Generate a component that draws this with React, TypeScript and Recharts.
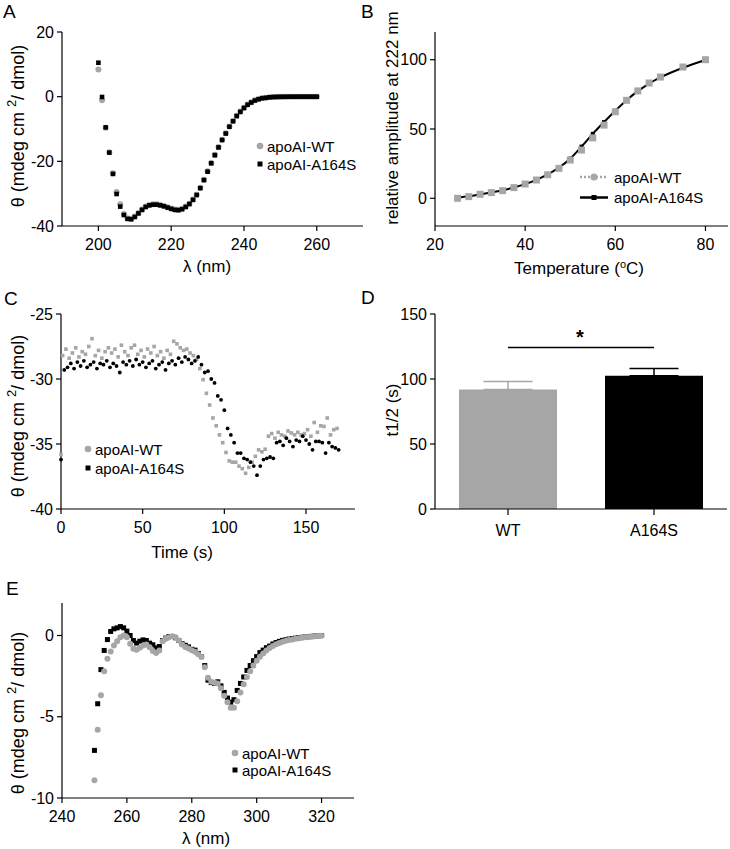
import {
  ScatterChart,
  Scatter,
  ComposedChart,
  Line,
  BarChart,
  Bar,
  Cell,
  ErrorBar,
  XAxis,
  YAxis,
  ReferenceLine,
} from 'recharts'

const FONT = '"Liberation Sans", Arial, Helvetica, sans-serif'
const GRAY = '#a6a6a6'
const INK = '#000000'

// A: far-UV CD spectra
const farUvNm = [
  200, 201, 202, 203, 204, 205, 206, 207, 208, 209, 210, 211, 212, 213, 214, 215, 216, 217, 218, 219,
  220, 221, 222, 223, 224, 225, 226, 227, 228, 229, 230, 231, 232, 233, 234, 235, 236, 237, 238, 239,
  240, 241, 242, 243, 244, 245, 246, 247, 248, 249, 250, 251, 252, 253, 254, 255, 256, 257, 258, 259, 260,
]
const farUvWT = [
  8.4, -1.1, -9.6, -17.2, -23.7, -29.5, -33.3, -36.3, -37.6, -37.8, -37.1, -36.0, -34.9, -34.0, -33.5, -33.3, -33.3, -33.5, -33.8, -34.2,
  -34.6, -34.9, -35.0, -34.7, -34.0, -33.1, -31.8, -30.3, -28.2, -25.7, -23.1, -20.5, -18.0, -15.6, -13.3, -11.3, -9.2, -7.5, -5.9, -4.6,
  -3.4, -2.4, -1.7, -1.1, -0.7, -0.45, -0.3, -0.18, -0.1, -0.06, -0.04, -0.02, -0.01, 0, 0, 0, 0, 0, 0, 0, 0,
]
const farUvA164S = [
  10.5, -0.1, -9.5, -17.3, -23.9, -30.1, -34.0, -36.6, -37.8, -37.9, -37.2, -36.1, -35.0, -34.1, -33.6, -33.4, -33.4, -33.6, -33.9, -34.3,
  -34.7, -35.0, -35.1, -34.8, -34.1, -33.2, -31.9, -30.4, -28.3, -25.8, -23.2, -20.6, -18.1, -15.7, -13.4, -11.4, -9.3, -7.6, -6.0, -4.7,
  -3.5, -2.5, -1.8, -1.2, -0.8, -0.5, -0.35, -0.2, -0.12, -0.08, -0.05, -0.03, -0.02, -0.01, 0, 0, 0, 0, 0, 0, 0,
]

// B: thermal unfolding followed at 222 nm
const meltTemp = [25, 27.5, 30, 32.5, 35, 37.5, 40, 42.5, 45, 47.5, 50, 52.5, 55, 57.5, 60, 62.5, 65, 67.5, 70, 75, 80]
const meltWT = [0, 1.2, 2.9, 4.1, 5.5, 7.7, 10.3, 13.2, 17, 21.6, 27.6, 34.8, 43.6, 52.8, 62.4, 70.7, 77.5, 83.2, 87.5, 94.7, 100]
const meltA164S = [0.5, 1.5, 2.8, 4.2, 5.8, 7.8, 10.2, 13.3, 17.2, 22.2, 28.6, 37.3, 46.5, 55.0, 63.2, 70.8, 77.3, 82.8, 87.2, 94.2, 99.8]

// C: time course
const kinTimeWT = [
  0, 1, 3, 5, 7, 9, 11, 13, 15, 17, 19, 21, 23, 25, 27, 29, 31, 33, 35, 37, 39, 41, 43, 45, 47, 49, 51, 53, 55, 57,
  59, 61, 63, 65, 67, 69, 71, 73, 75, 77, 79, 81, 83, 85, 87, 89, 91, 93, 95, 97, 99, 101, 103, 105, 107, 109, 111, 113, 115, 117,
  119, 121, 123, 125, 127, 129, 131, 133, 135, 137, 139, 141, 143, 145, 147, 149, 151, 153, 155, 157, 159, 161, 163, 165, 167, 169,
]
const kinWT = [
  -35.8,
  -28.2, -27.7, -28.4, -28.0, -27.6, -28.3, -27.9, -28.1, -27.5, -26.9,
  -28.2, -27.8, -28.4, -27.9, -27.6, -28.0, -27.7, -28.3, -27.4, -27.9,
  -28.2, -27.6, -27.4, -28.1, -27.8, -28.3, -27.7, -28.0, -27.5, -28.2,
  -27.9, -28.4, -27.8, -28.1, -27.1, -27.3, -27.6, -27.8, -27.7, -28.0,
  -28.2, -28.5, -29.2, -30.05, -31.1, -32.0, -33.0, -33.6, -34.3, -34.9,
  -35.65, -36.3, -36.4, -36.4, -36.7, -36.9, -37.25, -36.8, -36.4, -35.95,
  -35.45, -35.6, -35.4, -34.4, -34.2, -34.55, -34.1, -34.3, -34.4, -34.0,
  -34.15, -34.3, -34.1, -34.3, -34.2, -33.9, -34.4, -33.35, -34.1, -33.6,
  -33.65, -33.0, -34.3, -33.9, -33.8,
]
const kinTimeA164S = [
  0, 2, 4, 6, 8, 10, 12, 14, 16, 18, 20, 22, 24, 26, 28, 30, 32, 34, 36, 38, 40, 42, 44, 46, 48, 50, 52, 54, 56, 58,
  60, 62, 64, 66, 68, 70, 72, 74, 76, 78, 80, 82, 84, 86, 88, 90, 92, 94, 96, 98, 100, 102, 104, 106, 108, 110, 112, 114, 116, 118,
  120, 122, 124, 126, 128, 130, 132, 134, 136, 138, 140, 142, 144, 146, 148, 150, 152, 154, 156, 158, 160, 162, 164, 166, 168, 170,
]
const kinA164S = [
  -36.2, -29.3, -29.1, -28.8, -29.2, -28.7, -29.0, -28.6, -29.1, -28.9,
  -28.7, -29.2, -28.8, -28.9, -28.6, -29.1, -28.8, -29.0, -29.5, -28.7,
  -28.9, -28.6, -29.0, -28.5, -28.9, -28.7, -29.1, -28.8, -28.6, -29.2,
  -28.9, -28.7, -29.3, -28.8, -28.6, -28.9, -28.4, -28.7, -28.3, -28.5,
  -28.8, -28.6, -28.3, -28.9, -29.5, -29.4, -30.0, -30.3, -31.3, -31.6,
  -32.4, -33.8, -34.3, -34.9, -35.7, -35.7, -36.1, -36.2, -36.4, -36.7,
  -37.4, -36.7, -36.2, -36.1, -36.0, -36.1, -34.9, -34.8, -35.1, -34.55,
  -34.8, -35.2, -34.7, -34.8, -34.4, -34.7, -35.0, -35.45, -34.8, -34.8,
  -34.9, -35.7, -34.9, -35.2, -35.3, -35.45,
]

// D: half-life
const halfLifeGroups = ['WT', 'A164S']
const halfLifeMean = [92, 102.5]
const halfLifeSem = [6, 5.5]

// E: near-UV CD spectra
const nearUvNm = [
  250, 251, 252, 253, 254, 255, 256, 257, 258, 259, 260, 261, 262, 263, 264, 265, 266, 267, 268, 269,
  270, 271, 272, 273, 274, 275, 276, 277, 278, 279, 280, 281, 282, 283, 284, 285, 286, 287, 288, 289,
  290, 291, 292, 293, 294, 295, 296, 297, 298, 299, 300, 301, 302, 303, 304, 305, 306, 307, 308, 309,
  310, 311, 312, 313, 314, 315, 316, 317, 318, 319, 320,
]
const nearUvWT = [
  -8.9, -5.8, -3.67, -2.2, -1.43, -0.98, -0.61, -0.35, -0.1, 0.0, -0.1, -0.51, -0.82, -0.88, -0.76, -0.61, -0.55, -0.72, -0.96, -1.08,
  -0.92, -0.35, -0.2, -0.1, -0.04, -0.1, -0.31, -0.55, -0.7, -0.8, -0.9, -1.0, -1.15, -1.3, -1.95, -2.6, -2.85, -2.9, -2.95, -3.25,
  -3.7, -4.1, -4.45, -4.45, -4.05, -3.5, -3.0, -2.55, -2.2, -1.85, -1.55, -1.3, -1.1, -0.92, -0.77, -0.64, -0.54, -0.46, -0.39, -0.33,
  -0.28, -0.24, -0.2, -0.17, -0.14, -0.11, -0.09, -0.07, -0.05, -0.03, -0.01,
]
const nearUvA164S = [
  -7.07, -4.2, -2.1, -0.92, -0.25, 0.25, 0.41, 0.47, 0.55, 0.47, 0.27, 0.0, -0.31, -0.47, -0.35, -0.27, -0.31, -0.47, -0.57, -0.76,
  -0.68, -0.31, -0.16, -0.06, -0.06, -0.14, -0.31, -0.5, -0.6, -0.7, -0.85, -0.9, -1.1, -1.3, -1.85, -2.75, -2.9, -2.95, -2.85, -3.1,
  -3.5, -3.85, -4.1, -3.95, -3.38, -2.95, -2.55, -2.15, -1.85, -1.55, -1.3, -1.05, -0.9, -0.75, -0.65, -0.52, -0.43, -0.36, -0.3, -0.26,
  -0.22, -0.19, -0.16, -0.13, -0.11, -0.09, -0.07, -0.05, -0.03, -0.02, 0,
]

const pairs = (xs: number[], ys: number[]) => xs.map((x, i) => ({ x, y: ys[i] }))

const farUvRowsWT = pairs(farUvNm, farUvWT)
const farUvRowsA164S = pairs(farUvNm, farUvA164S)
const meltRows = meltTemp.map((t, i) => ({ t, wt: meltWT[i], mut: meltA164S[i] }))
const kinRowsWT = pairs(kinTimeWT, kinWT)
const kinRowsA164S = pairs(kinTimeA164S, kinA164S)
const halfLifeRows = halfLifeGroups.map((name, i) => ({
  name,
  value: halfLifeMean[i],
  errWT: i === 0 ? [0, halfLifeSem[i]] : undefined,
  errMut: i === 1 ? [0, halfLifeSem[i]] : undefined,
}))
const nearUvRowsWT = pairs(nearUvNm, nearUvWT)
const nearUvRowsA164S = pairs(nearUvNm, nearUvA164S)

const tickStyle = { fill: INK, fontSize: 16, fontFamily: FONT }
const axisStroke = { stroke: INK, strokeWidth: 1.2 }
const xAxisBits = { tickSize: 5, tickMargin: 8, tick: tickStyle, axisLine: axisStroke, tickLine: axisStroke, interval: 0 as const }
const yAxisBits = { tickSize: 5, tickMargin: 3, tick: tickStyle, axisLine: axisStroke, tickLine: axisStroke, interval: 0 as const }

function Title({ px, py, text, rotate }: { px: number; py: number; text: string; rotate?: boolean }) {
  return (
    <text
      x={px}
      y={py}
      textAnchor="middle"
      dominantBaseline={rotate ? 'central' : 'auto'}
      transform={rotate ? `rotate(-90 ${px} ${py})` : undefined}
      fontSize={17}
      fontFamily={FONT}
      fill={INK}
    >
      {text}
    </text>
  )
}

function ThetaTitle({ px, py }: { px: number; py: number }) {
  return (
    <text
      x={px}
      y={py}
      textAnchor="middle"
      dominantBaseline="central"
      transform={`rotate(-90 ${px} ${py})`}
      fontSize={18}
      fontFamily={FONT}
      fill={INK}
    >
      <tspan>θ (mdeg cm </tspan>
      <tspan dy={-7} fontSize={13}>2</tspan>
      <tspan dy={7}>/ dmol)</tspan>
    </text>
  )
}

function TempTitle({ px, py }: { px: number; py: number }) {
  return (
    <text x={px} y={py} textAnchor="middle" fontSize={17} fontFamily={FONT} fill={INK}>
      <tspan>Temperature (</tspan>
      <tspan dy={-6} fontSize={11}>o</tspan>
      <tspan dy={6}>C)</tspan>
    </text>
  )
}

function SquareMark({ cx, cy, side, color }: any) {
  if (cx == null || cy == null) return null
  return <rect x={cx - side / 2} y={cy - side / 2} width={side} height={side} fill={color} />
}

function RoundMark({ cx, cy, r, color }: any) {
  if (cx == null || cy == null) return null
  return <circle cx={cx} cy={cy} r={r} fill={color} />
}

function LegendRow({ x, y, label, mark }: { x: number; y: number; label: string; mark: 'circle' | 'square' }) {
  return (
    <g>
      {mark === 'circle' ? (
        <circle cx={x} cy={y} r={3.3} fill={GRAY} />
      ) : (
        <rect x={x - 2.5} y={y - 2.5} width={5} height={5} fill={INK} />
      )}
      <text x={x + 7} y={y} dominantBaseline="central" fontSize={15} fontFamily={FONT} fill={INK}>
        {label}
      </text>
    </g>
  )
}

function Overlay() {
  const letter = { fontSize: 19, fontFamily: FONT, fill: INK }
  return (
    <svg width={730} height={849} style={{ position: 'absolute', left: 0, top: 0, pointerEvents: 'none' }}>
      <text x={3} y={18} {...letter}>A</text>
      <text x={361} y={18} {...letter}>B</text>
      <text x={4} y={305} {...letter}>C</text>
      <text x={361} y={304} {...letter}>D</text>
      <text x={6} y={595} {...letter}>E</text>

      <LegendRow x={260} y={146} label="apoAI-WT" mark="circle" />
      <LegendRow x={260} y={164} label="apoAI-A164S" mark="square" />

      <line x1={580} y1={177} x2={608} y2={177} stroke={GRAY} strokeWidth={2.5} strokeDasharray="2 2" />
      <circle cx={594} cy={177} r={3.5} fill={GRAY} />
      <text x={614} y={177} dominantBaseline="central" fontSize={15} fontFamily={FONT} fill={INK}>apoAI-WT</text>
      <line x1={580} y1={197.5} x2={608} y2={197.5} stroke={INK} strokeWidth={2.5} />
      <rect x={591.5} y={195} width={5} height={5} fill={INK} />
      <text x={614} y={197.5} dominantBaseline="central" fontSize={15} fontFamily={FONT} fill={INK}>apoAI-A164S</text>

      <LegendRow x={88} y={449} label="apoAI-WT" mark="circle" />
      <LegendRow x={88} y={468} label="apoAI-A164S" mark="square" />

      <LegendRow x={235} y={753} label="apoAI-WT" mark="circle" />
      <LegendRow x={235} y={770} label="apoAI-A164S" mark="square" />

      <text x={580} y={344} textAnchor="middle" fontSize={20} fontWeight="bold" fontFamily={FONT} fill={INK}>*</text>
    </svg>
  )
}

export default function App() {
  return (
    <div style={{ position: 'absolute', left: 0, top: 0, width: 730, height: 849, background: '#fff', fontFamily: FONT }}>
      {/* A */}
      <div style={{ position: 'absolute', left: 0, top: 0 }}>
        <ScatterChart width={365} height={285} margin={{ top: 32, right: 2, bottom: 0, left: 0 }}>
          <XAxis
            type="number"
            dataKey="x"
            domain={[190, 272.7]}
            ticks={[200, 220, 240, 260]}
            height={59}
            {...xAxisBits}
            label={<Title px={207} py={272} text="λ (nm)" />}
          />
          <YAxis
            type="number"
            dataKey="y"
            domain={[-40, 20]}
            ticks={[-40, -20, 0, 20]}
            width={62}
            {...yAxisBits}
            label={<ThetaTitle px={18} py={126} />}
          />
          <Scatter data={farUvRowsWT} isAnimationActive={false} shape={(p: any) => <RoundMark {...p} r={3} color={GRAY} />} />
          <Scatter data={farUvRowsA164S} isAnimationActive={false} shape={(p: any) => <SquareMark {...p} side={4.6} color={INK} />} />
        </ScatterChart>
      </div>

      {/* B */}
      <div style={{ position: 'absolute', left: 365, top: 0 }}>
        <ComposedChart width={365} height={285} data={meltRows} margin={{ top: 32, right: 2, bottom: 0, left: 0 }}>
          <XAxis
            type="number"
            dataKey="t"
            domain={[20, 85]}
            ticks={[20, 40, 60, 80]}
            height={59}
            {...xAxisBits}
            label={<TempTitle px={214} py={274} />}
          />
          <YAxis
            type="number"
            domain={[-20, 120]}
            ticks={[0, 50, 100]}
            width={70}
            {...yAxisBits}
            label={<Title px={27} py={118} text="relative amplitude at 222 nm" rotate />}
          />
          <Line
            dataKey="mut"
            type="monotone"
            stroke={INK}
            strokeWidth={2}
            isAnimationActive={false}
            dot={(p: any) => <SquareMark key={`m${p.index}`} {...p} side={4} color={INK} />}
          />
          <Line
            dataKey="wt"
            type="linear"
            stroke={GRAY}
            strokeWidth={1.5}
            strokeDasharray="2 2"
            strokeOpacity={0}
            isAnimationActive={false}
            dot={(p: any) => <SquareMark key={`w${p.index}`} {...p} side={7} color={GRAY} />}
          />
        </ComposedChart>
      </div>

      {/* C */}
      <div style={{ position: 'absolute', left: 0, top: 285 }}>
        <ScatterChart width={365} height={285} margin={{ top: 29, right: 10, bottom: 0, left: 0 }}>
          <XAxis
            type="number"
            dataKey="x"
            domain={[0, 180]}
            ticks={[0, 50, 100, 150]}
            height={61}
            {...xAxisBits}
            label={<Title px={182} py={273} text="Time (s)" />}
          />
          <YAxis
            type="number"
            dataKey="y"
            domain={[-40, -25]}
            ticks={[-40, -35, -30, -25]}
            width={61}
            {...yAxisBits}
            label={<ThetaTitle px={18} py={131} />}
          />
          <Scatter data={kinRowsWT} isAnimationActive={false} shape={(p: any) => <SquareMark {...p} side={3.6} color={GRAY} />} />
          <Scatter data={kinRowsA164S} isAnimationActive={false} shape={(p: any) => <RoundMark {...p} r={1.9} color={INK} />} />
        </ScatterChart>
      </div>

      {/* D */}
      <div style={{ position: 'absolute', left: 365, top: 285 }}>
        <BarChart width={365} height={285} data={halfLifeRows} margin={{ top: 29, right: 3, bottom: 0, left: 0 }}>
          <XAxis dataKey="name" height={61} {...xAxisBits} tickSize={6} tickMargin={10} />
          <YAxis
            type="number"
            domain={[0, 150]}
            ticks={[0, 50, 100, 150]}
            width={70}
            {...yAxisBits}
            label={<Title px={27} py={125} text="t1/2 (s)" rotate />}
          />
          <ReferenceLine
            segment={[
              { x: 'WT', y: 124.3 },
              { x: 'A164S', y: 124.3 },
            ]}
            stroke={INK}
            strokeWidth={1.5}
            ifOverflow="visible"
          />
          <Bar dataKey="value" barSize={98} isAnimationActive={false}>
            {halfLifeRows.map((r, i) => (
              <Cell key={r.name} fill={i === 0 ? GRAY : INK} />
            ))}
            <ErrorBar dataKey="errWT" direction="y" width={24.5} stroke={GRAY} strokeWidth={1.5} />
            <ErrorBar dataKey="errMut" direction="y" width={24.5} stroke={INK} strokeWidth={1.5} />
          </Bar>
        </BarChart>
      </div>

      {/* E */}
      <div style={{ position: 'absolute', left: 0, top: 570 }}>
        <ScatterChart width={365} height={279} margin={{ top: 33, right: 11, bottom: 0, left: 0 }}>
          <XAxis
            type="number"
            dataKey="x"
            domain={[240, 330]}
            ticks={[240, 260, 280, 300, 320]}
            height={51}
            {...xAxisBits}
            label={<Title px={206} py={274} text="λ (nm)" />}
          />
          <YAxis
            type="number"
            dataKey="y"
            domain={[-10, 2]}
            ticks={[-10, -5, 0]}
            width={62}
            {...yAxisBits}
            label={<ThetaTitle px={18} py={143} />}
          />
          <Scatter data={nearUvRowsA164S} isAnimationActive={false} shape={(p: any) => <SquareMark {...p} side={5} color={INK} />} />
          <Scatter data={nearUvRowsWT} isAnimationActive={false} shape={(p: any) => <RoundMark {...p} r={3} color={GRAY} />} />
        </ScatterChart>
      </div>

      <Overlay />
    </div>
  )
}
